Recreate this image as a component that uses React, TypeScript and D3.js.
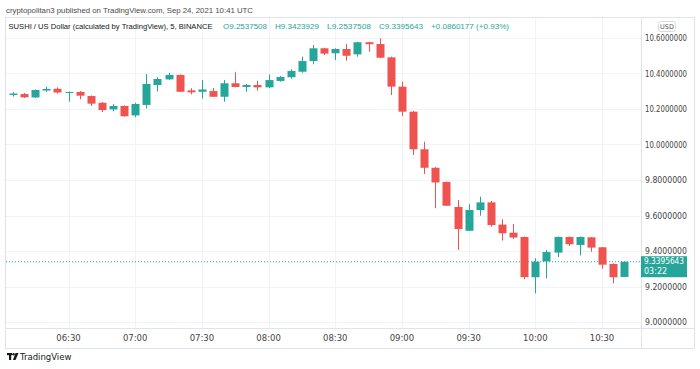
import React from 'react';
import * as d3 from 'd3';

const times = [
  "06:05","06:10","06:15","06:20","06:25","06:30","06:35","06:40","06:45","06:50","06:55",
  "07:00","07:05","07:10","07:15","07:20","07:25","07:30","07:35","07:40","07:45","07:50","07:55",
  "08:00","08:05","08:10","08:15","08:20","08:25","08:30","08:35","08:40","08:45","08:50","08:55",
  "09:00","09:05","09:10","09:15","09:20","09:25","09:30","09:35","09:40","09:45","09:50","09:55",
  "10:00","10:05","10:10","10:15","10:20","10:25","10:30","10:35","10:40"
];
const opens = [
  10.279,10.284,10.265,10.304,10.314,10.293,10.296,10.273,10.235,10.198,
  10.217,10.164,10.223,10.335,10.367,10.392,10.305,10.297,10.301,10.269,
  10.345,10.324,10.335,10.322,10.358,10.379,10.410,10.470,10.542,10.514,
  10.538,10.508,10.576,10.566,10.491,10.326,10.185,9.973,9.869,9.789,
  9.648,9.514,9.631,9.674,9.549,9.503,9.479,9.252,9.341,9.391,
  9.479,9.434,9.477,9.421,9.327,9.2537508
];
const highs = [
  10.296,10.290,10.310,10.326,10.322,10.299,10.301,10.276,10.239,10.228,
  10.220,10.235,10.397,10.379,10.404,10.394,10.317,10.363,10.318,10.363,
  10.407,10.341,10.359,10.395,10.386,10.424,10.495,10.561,10.545,10.542,
  10.566,10.579,10.579,10.598,10.495,10.354,10.189,10.016,9.873,9.792,
  9.687,9.663,9.706,9.682,9.579,9.552,9.482,9.359,9.406,9.482,
  9.482,9.482,9.479,9.422,9.330,9.3423929
];
const lows = [
  10.270,10.262,10.262,10.296,10.287,10.241,10.255,10.217,10.183,10.187,
  10.157,10.153,10.203,10.299,10.363,10.296,10.283,10.259,10.268,10.241,
  10.322,10.297,10.303,10.317,10.354,10.371,10.404,10.452,10.504,10.476,
  10.472,10.495,10.523,10.486,10.279,10.161,9.941,9.834,9.641,9.653,
  9.406,9.513,9.599,9.537,9.459,9.468,9.241,9.161,9.246,9.366,
  9.428,9.375,9.396,9.300,9.218,9.2537508
];
const closes = [
  10.287,10.266,10.307,10.313,10.293,10.296,10.275,10.230,10.194,10.217,
  10.159,10.228,10.341,10.369,10.392,10.297,10.294,10.310,10.269,10.345,
  10.324,10.335,10.322,10.363,10.380,10.414,10.470,10.542,10.512,10.538,
  10.500,10.576,10.565,10.489,10.326,10.185,9.973,9.869,9.786,9.655,
  9.524,9.631,9.674,9.546,9.500,9.476,9.253,9.340,9.394,9.479,
  9.438,9.479,9.419,9.323,9.252,9.3395643
];
const yTicks = [10.6, 10.4, 10.2, 10.0, 9.8, 9.6, 9.4, 9.2, 9.0];
const xTicks = ["06:30","07:00","07:30","08:00","08:30","09:00","09:30","10:00","10:30"];
const lastPrice = 9.3395643;
const countdown = "03:22";
const headerTop = "cryptopolitan3 published on TradingView.com, Sep 24, 2021 10:41 UTC";
const headerSymbol = "SUSHI / US Dollar (calculated by TradingView), 5, BINANCE";
const headerValues = ["O9.2537508", "H9.3423929", "L9.2537508", "C9.3395643", "+0.0860177 (+0.93%)"];

const UP = "#26a69a";
const DOWN = "#ef5350";
const GRID = "#f0f3fa";
const BORDER = "#e0e3eb";
const FONT = "'DejaVu Sans', 'Noto Sans', sans-serif";
const HFONT = "'Liberation Sans', Arial, sans-serif";

const toDate = (s: string) => {
  const [h, m] = s.split(":").map(Number);
  return new Date(2021, 8, 24, h, m);
};

export default function App() {
  const paneLeft = 5, paneRight = 641, paneTop = 17, paneBottom = 328, frameRight = 694, frameBottom = 348;
  const x = d3.scaleTime().domain([toDate("06:30"), toDate("10:30")]).range([68.5, 602]);
  const y = d3.scaleLinear().domain([9.0, 10.6]).range([322, 38]);
  const bodyW = 8;

  const candles = times.map((t, i) => ({ t, o: opens[i], h: highs[i], l: lows[i], c: closes[i] }));
  const valueX = [223, 275, 327, 379, 431];
  const valueW = [44, 44, 44, 44, 78];

  return (
    <svg width={700} height={369} style={{ position: 'absolute', left: 0, top: 0, background: '#fff' }} fontFamily={FONT}>
      <rect x={0} y={0} width={700} height={369} fill="#fff" />
      {/* header */}
      <text x={6} y={13} fontSize={7.5} fontFamily={HFONT} fill="#4a4a4a" textLength={247} lengthAdjust="spacingAndGlyphs">{headerTop}</text>

      {/* frame */}
      <rect x={paneLeft + 0.5} y={paneTop + 0.5} width={frameRight - paneLeft} height={frameBottom - paneTop} fill="none" stroke={BORDER} />

      {/* grid */}
      {yTicks.map(v => (
        <line key={'gy' + v} x1={paneLeft + 1} x2={paneRight} y1={Math.round(y(v)) + 0.5} y2={Math.round(y(v)) + 0.5} stroke={GRID} />
      ))}
      {xTicks.map(t => (
        <line key={'gx' + t} x1={Math.round(x(toDate(t))) + 0.5} x2={Math.round(x(toDate(t))) + 0.5} y1={paneTop + 1} y2={paneBottom} stroke={GRID} />
      ))}

      <text x={8.5} y={28.5} fontSize={7.5} fontFamily={HFONT} fill="#131722" textLength={204} lengthAdjust="spacingAndGlyphs">{headerSymbol}</text>
      {headerValues.map((v, i) => (
        <text key={v} x={valueX[i]} y={28.5} fontSize={7.5} fontFamily={HFONT} fill={UP} textLength={valueW[i]} lengthAdjust="spacingAndGlyphs">{v}</text>
      ))}

      {/* axis separators */}
      <line x1={paneRight + 0.5} x2={paneRight + 0.5} y1={paneTop} y2={frameBottom} stroke={BORDER} />
      <line x1={paneLeft} x2={frameRight} y1={paneBottom + 0.5} y2={paneBottom + 0.5} stroke={BORDER} />

      {/* last price dotted line */}
      <line x1={paneLeft + 1} x2={paneRight} y1={y(lastPrice)} y2={y(lastPrice)} stroke={UP} strokeDasharray="1 2" strokeWidth={1} />

      {/* candles */}
      {candles.map(d => {
        const cx = Math.round(x(toDate(d.t)));
        const up = d.c >= d.o;
        const col = up ? UP : DOWN;
        const top = y(Math.max(d.o, d.c));
        const bot = y(Math.min(d.o, d.c));
        return (
          <g key={d.t}>
            <line x1={cx + 0.5} x2={cx + 0.5} y1={y(d.h)} y2={y(d.l)} stroke={col} strokeWidth={1} />
            <rect x={cx - bodyW / 2 + 0.5} y={top} width={bodyW} height={Math.max(1, bot - top)} fill={col} />
          </g>
        );
      })}

      {/* right axis */}
      <rect x={658.5} y={21.5} width={17} height={10} rx={2} fill="#fff" stroke="#c8cbd3" strokeWidth={0.7} />
      <text x={667} y={29} fontSize={6.5} fill="#555" textAnchor="middle">USD</text>
      {yTicks.map(v => (
        <text key={'yl' + v} x={645} y={y(v) + 3} fontSize={8.5} fill="#444" textLength={42} lengthAdjust="spacingAndGlyphs">{v.toFixed(7)}</text>
      ))}

      {/* last price tag */}
      <rect x={641} y={y(lastPrice) - 5.5} width={46} height={21} fill={UP} />
      <text x={644} y={y(lastPrice) + 2.5} fontSize={8} fill="#fff" textLength={40} lengthAdjust="spacingAndGlyphs">{lastPrice.toFixed(7)}</text>
      <text x={644} y={y(lastPrice) + 12} fontSize={8} fill="#fff">{countdown}</text>

      {/* time axis */}
      {xTicks.map(t => (
        <text key={'xl' + t} x={x(toDate(t))} y={340.5} fontSize={8.5} fill="#444" textAnchor="middle">{t}</text>
      ))}

      {/* logo */}
      <g fill="#131722">
        <rect x={7} y={353} width={5} height={2.2} />
        <rect x={9} y={353} width={2.2} height={7} />
        <circle cx={13.5} cy={354.2} r={1.2} />
        <path d="M15.5 353 L18.5 353 L15.5 360 L13 360 Z" />
      </g>
      <text x={20} y={360} fontSize={8.5} fill="#131722">TradingView</text>
    </svg>
  );
}
